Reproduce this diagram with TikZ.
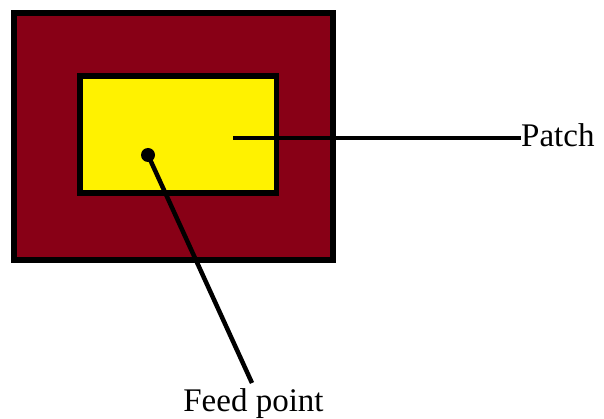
\documentclass[tikz,border=0pt]{standalone}
\usepackage{fontspec}
\setmainfont{Liberation Serif}
\definecolor{substrate}{RGB}{136,0,22}
\definecolor{patchfill}{RGB}{255,242,0}
\begin{document}
\begin{tikzpicture}[x=1pt,y=-1pt,
    board/.style={draw=black,line width=6pt,fill=substrate},
    patchbox/.style={draw=black,line width=5.5pt,fill=patchfill},
    lead/.style={draw=black,line width=4.5pt},
    caption/.style={font=\fontsize{33}{40}\selectfont,inner sep=0pt}]
  \useasboundingbox (0,0) rectangle (604,419);
  % substrate and radiating patch
  \draw[board] (14,13) rectangle (333,260);
  \draw[patchbox] (80,76) rectangle (276.5,193);
  % feed point marker
  \fill[black] (148,155) circle (7pt);
  \coordinate (feed) at (148,155);
  \coordinate (patchpt) at (233,138);
  % labels
  \node[caption,anchor=base west] (patchlbl) at (521,147) {Patch};
  \node[caption,anchor=base] (feedlbl) at (253.5,411) {Feed point};
  % leader lines
  \draw[lead] (patchpt) -- (patchpt -| patchlbl.west);
  \draw[lead] (feed) -- (252,383);
\end{tikzpicture}
\end{document}
